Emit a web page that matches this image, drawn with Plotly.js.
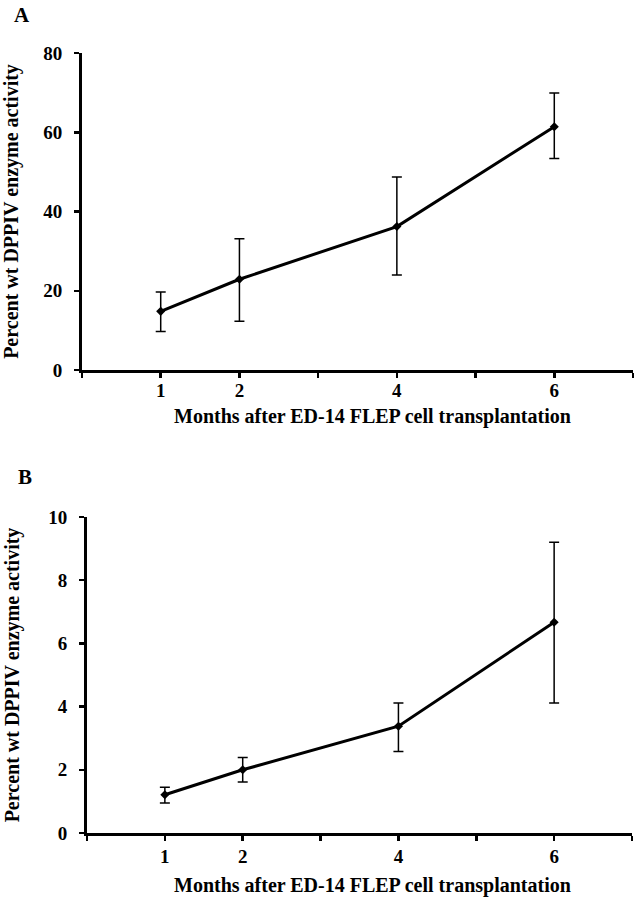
<!DOCTYPE html>
<html>
<head>
<meta charset="utf-8">
<script src="https://cdn.plot.ly/plotly-3.0.1.min.js"></script>
<style>html,body{margin:0;padding:0;background:#fff;}#chart{width:636px;height:899px;}</style>
</head>
<body>
<div id="chart"></div>
<script>
// Data
const months = [1, 2, 4, 6];
const xTickVals = [0, 1, 2, 3, 4, 5, 6, 7];
const xTickText = ['', '1', '2', '', '4', '', '6', ''];

const activityA = [14.8, 22.9, 36.2, 61.4];
const errPlusA = [4.9, 10.2, 12.5, 8.5];
const errMinusA = [5.1, 10.6, 12.2, 8.0];

const activityB = [1.21, 2.0, 3.38, 6.67];
const errPlusB = [0.24, 0.39, 0.73, 2.53];
const errMinusB = [0.26, 0.39, 0.80, 2.56];

const yTickValsA = [0, 20, 40, 60, 80];
const yTickValsB = [0, 2, 4, 6, 8, 10];

const xTitle = 'Months after ED-14 FLEP cell transplantation';
const yTitle = 'Percent wt DPPIV enzyme activity';

const font = 'Liberation Serif, Times New Roman, serif';

function series(y, ep, em, xa, ya) {
  return {
    x: months, y: y, xaxis: xa, yaxis: ya,
    type: 'scatter', mode: 'lines+markers',
    line: {color: '#000', width: 3},
    marker: {symbol: 'diamond', size: 7, color: '#000'},
    error_y: {type: 'data', symmetric: false, array: ep, arrayminus: em,
              color: '#000', thickness: 1.5, width: 5},
    showlegend: false, hoverinfo: 'skip'
  };
}

const data = [
  series(activityA, errPlusA, errMinusA, 'x', 'y'),
  series(activityB, errPlusB, errMinusB, 'x2', 'y2')
];

function xAxis(domain, anchor, standoff) {
  return {
    domain: domain, anchor: anchor, range: [0, 7],
    tickmode: 'array', tickvals: xTickVals, ticktext: xTickText,
    showline: true, linecolor: '#000', linewidth: 3,
    ticks: 'outside', ticklen: 5, tickwidth: 2.5, tickcolor: '#000',
    showgrid: false, zeroline: false, ticklabelstandoff: standoff,
    tickfont: {family: font, size: 19, color: '#000', weight: 'bold'}
  };
}
function yAxis(domain, anchor, range, tv, standoff) {
  return {
    domain: domain, anchor: anchor, range: range,
    tickmode: 'array', tickvals: tv,
    showline: true, linecolor: '#000', linewidth: 3,
    ticks: 'outside', ticklen: 5, tickwidth: 2.5, tickcolor: '#000',
    showgrid: false, zeroline: false, ticklabelstandoff: 8,
    tickfont: {family: font, size: 19, color: '#000', weight: 'bold'},
    title: {text: yTitle, standoff: standoff,
            font: {family: font, size: 20, color: '#000', weight: 'bold'}}
  };
}

const titleFont = {family: font, size: 20, color: '#000', weight: 'bold'};
const panelFont = {family: font, size: 21, color: '#000', weight: 'bold'};

const layout = {
  width: 636, height: 899,
  margin: {l: 0, r: 0, t: 0, b: 0},
  paper_bgcolor: '#fff', plot_bgcolor: '#fff',
  xaxis: xAxis([82/636, 633/636], 'y', -4),
  yaxis: yAxis([1 - 370/899, 1 - 53/899], 'x', [0, 80], yTickValsA, 20),
  xaxis2: xAxis([87/636, 632/636], 'y2', -1),
  yaxis2: yAxis([1 - 833/899, 1 - 517/899], 'x2', [0, 10], yTickValsB, 24),
  annotations: [
    {text: 'A', xref: 'paper', yref: 'paper', x: 22/636, y: 1 - 15/899,
     showarrow: false, xanchor: 'center', yanchor: 'middle', font: panelFont},
    {text: 'B', xref: 'paper', yref: 'paper', x: 25/636, y: 1 - 477/899,
     showarrow: false, xanchor: 'center', yanchor: 'middle', font: panelFont},
    {text: xTitle, xref: 'paper', yref: 'paper', x: 372/636, y: 1 - 416/899,
     showarrow: false, xanchor: 'center', yanchor: 'middle', font: titleFont},
    {text: xTitle, xref: 'paper', yref: 'paper', x: 372/636, y: 1 - 885/899,
     showarrow: false, xanchor: 'center', yanchor: 'middle', font: titleFont}
  ]
};

Plotly.newPlot('chart', data, layout, {displayModeBar: false, staticPlot: true});
</script>
</body>
</html>
